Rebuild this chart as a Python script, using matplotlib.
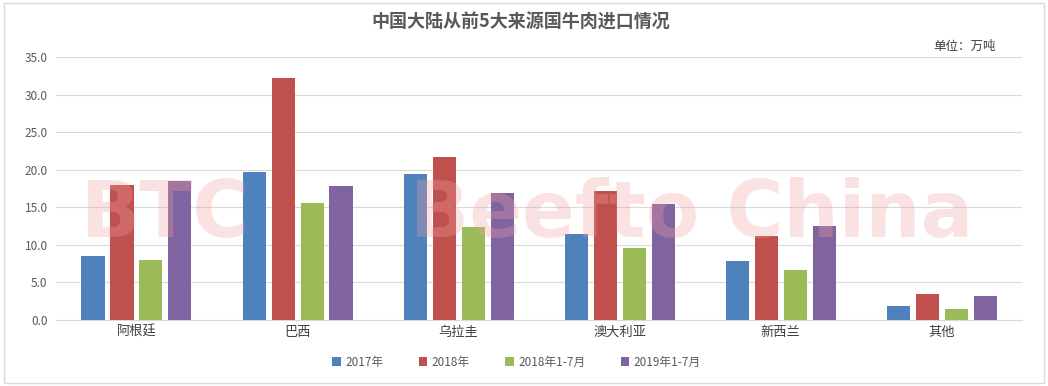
import matplotlib.pyplot as plt
import numpy as np
from matplotlib.patches import Rectangle

plt.rcParams["font.family"] = ["Noto Sans CJK SC", "DejaVu Sans"]

# data (万吨)
countries = ["阿根廷", "巴西", "乌拉圭", "澳大利亚", "新西兰", "其他"]
series_names = ["2017年", "2018年", "2018年1-7月", "2019年1-7月"]
v2017 = [8.5, 19.7, 19.4, 11.4, 7.9, 1.9]
v2018 = [18.0, 32.2, 21.7, 17.2, 11.2, 3.4]
v2018_jul = [8.0, 15.6, 12.4, 9.6, 6.6, 1.5]
v2019_jul = [18.5, 17.8, 16.9, 15.4, 12.5, 3.2]
yticks = [0, 5, 10, 15, 20, 25, 30, 35]

colors = ["#4F81BD", "#C0504D", "#9BBB59", "#8064A2"]
text_col = "#595959"

fig = plt.figure(figsize=(10.48, 3.86), dpi=100)
fig.patches.append(Rectangle((0.004, 0.008), 0.992, 0.984, transform=fig.transFigure,
                             fill=False, edgecolor="#d9d9d9", linewidth=1.0))
ax = fig.add_axes([0.0534, 0.171, 0.922, 0.681])

x = np.arange(len(countries))
width = 0.143
pitch = 0.18
all_vals = [v2017, v2018, v2018_jul, v2019_jul]
for i, (vals, name, c) in enumerate(zip(all_vals, series_names, colors)):
    ax.bar(x + (i - 1.5) * pitch, vals, width=width, color=c, label=name, zorder=3)

ax.set_xlim(-0.5, len(countries) - 0.5)
ax.set_ylim(0, 35)
ax.set_yticks(yticks)
ax.set_yticklabels([f"{t:.1f}" for t in yticks])
ax.set_xticks(x)
ax.set_xticklabels(countries)
ax.tick_params(axis="y", length=0, labelsize=8.5, colors=text_col, pad=6)
ax.tick_params(axis="x", length=0, labelsize=9.5, colors="#404040", pad=4)
ax.grid(axis="y", color="#d9d9d9", linewidth=0.8, zorder=0)
for s in ["top", "right", "left"]:
    ax.spines[s].set_visible(False)
ax.spines["bottom"].set_color("#d9d9d9")

# watermark
ax.text(0.113, 0.40, "BTC", transform=ax.transAxes, fontsize=56, fontweight="bold",
        family="DejaVu Sans", color="#f2a0a0", alpha=0.3, ha="center", va="center", zorder=4)
ax.text(0.658, 0.40, "Beefto China", transform=ax.transAxes, fontsize=56, fontweight="bold",
        family="DejaVu Sans", color="#f2a0a0", alpha=0.3, ha="center", va="center", zorder=4)

fig.text(0.497, 0.943, "中国大陆从前5大来源国牛肉进口情况", ha="center", va="center",
         fontsize=13, fontweight="bold", color=text_col)
fig.text(0.92, 0.88, "单位：万吨", ha="center", va="center", fontsize=9, color="#404040")

fig.legend(loc="center", bbox_to_anchor=(0.493, 0.062), ncol=4, frameon=False,
           fontsize=8.5, handlelength=0.7, handleheight=0.7, handletextpad=0.4,
           columnspacing=3.0, labelcolor=text_col)

fig.savefig("out.png", dpi=100)
